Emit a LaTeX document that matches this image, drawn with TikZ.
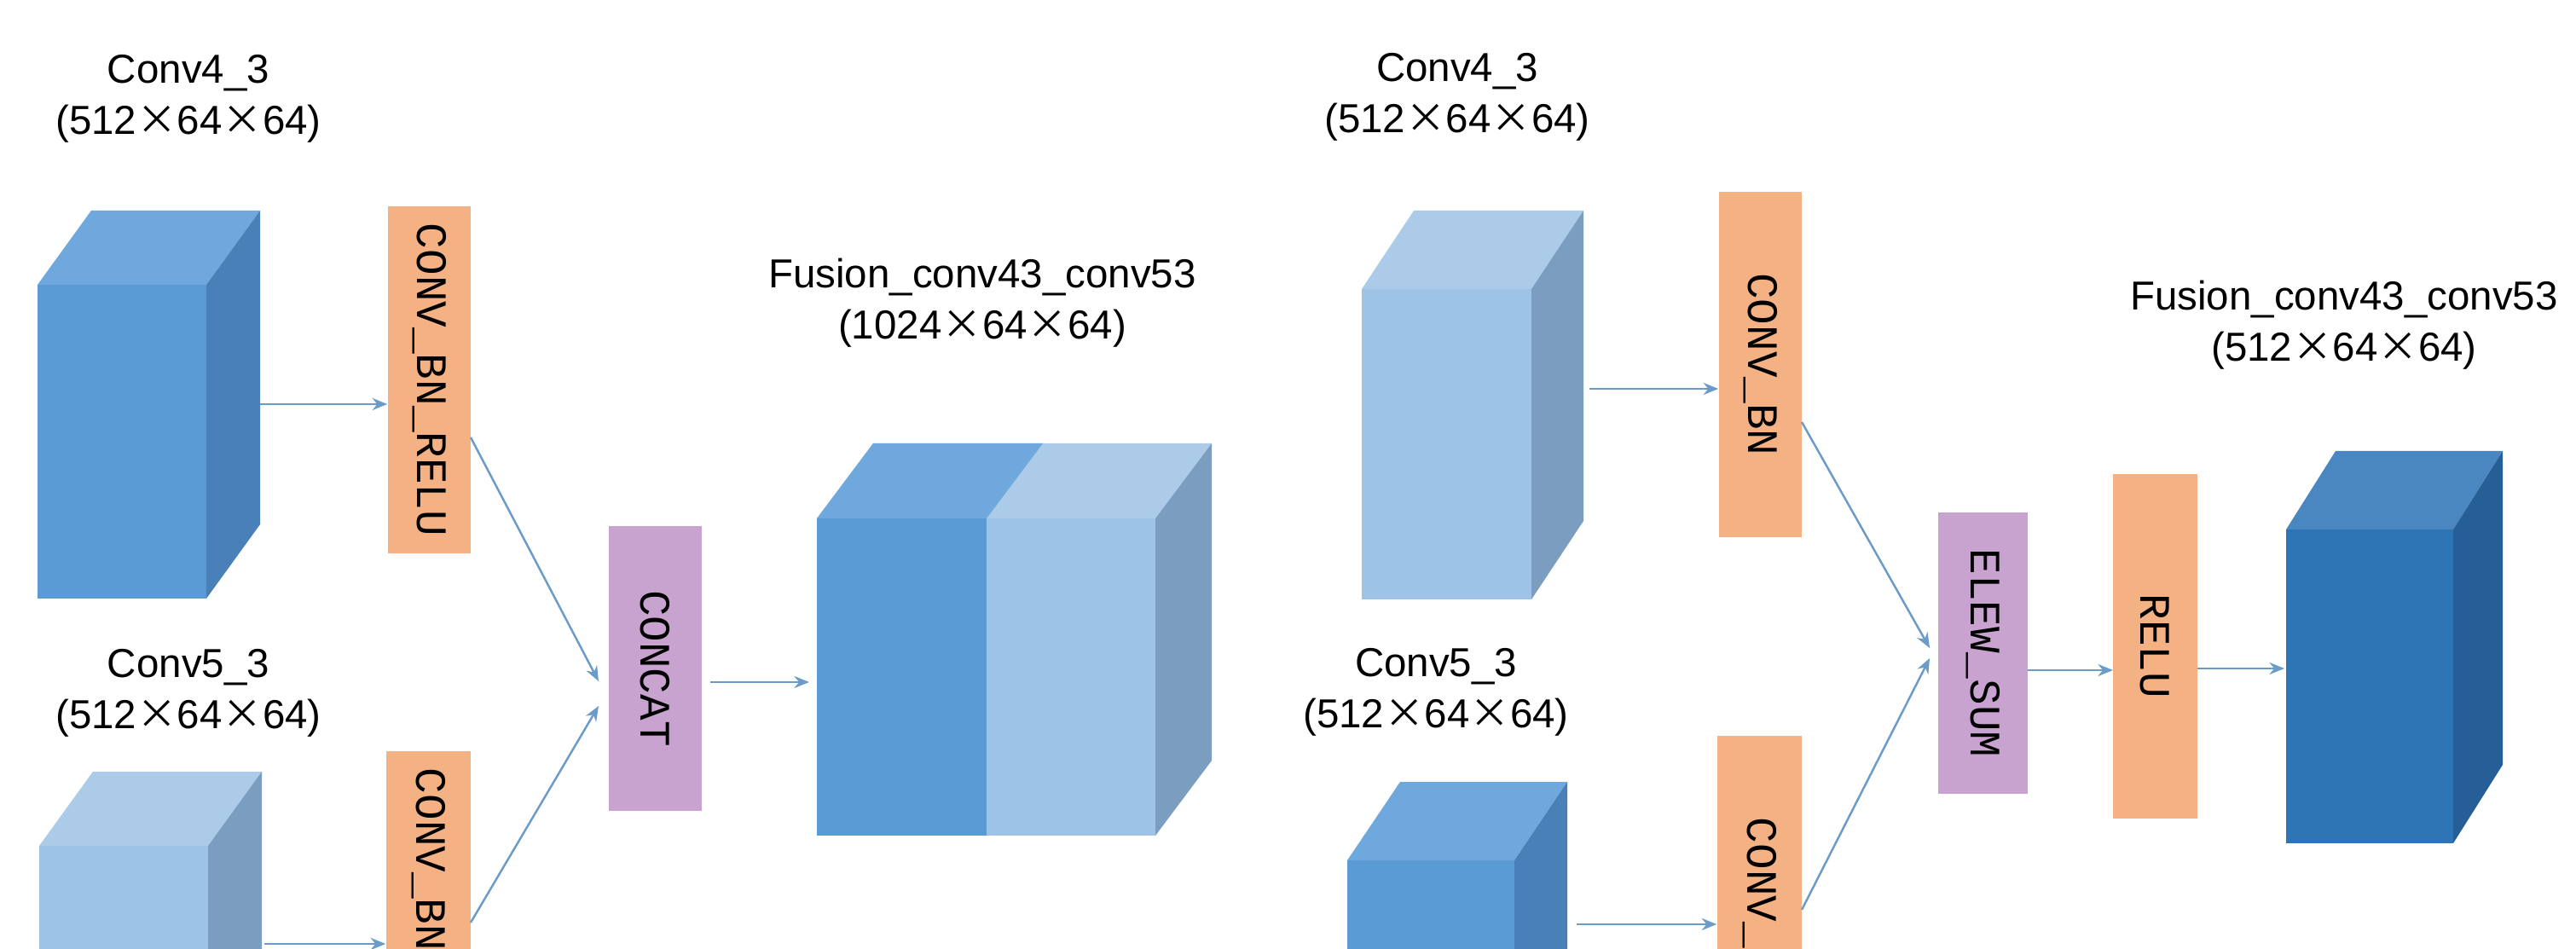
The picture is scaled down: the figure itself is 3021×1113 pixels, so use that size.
\documentclass[tikz,border=0pt]{standalone}
\usepackage{fontspec}
\setmainfont{Liberation Sans}
\newfontfamily\cjk{Noto Sans CJK SC}
\newfontfamily\mono{Liberation Mono}
\usetikzlibrary{arrows.meta}
\definecolor{bD}{HTML}{5B9BD5}\definecolor{bDt}{HTML}{6FA8DC}\definecolor{bDs}{HTML}{4A80B8}
\definecolor{bL}{HTML}{9DC3E6}\definecolor{bLt}{HTML}{ABCBE8}\definecolor{bLs}{HTML}{7B9EC0}
\definecolor{bX}{HTML}{2E75B6}\definecolor{bXt}{HTML}{4A86C0}\definecolor{bXs}{HTML}{255F96}
\definecolor{org}{HTML}{F4B183}\definecolor{pur}{HTML}{C9A3D0}\definecolor{arr}{HTML}{6A9BC9}
\newcommand\x{{\cjk ×}}
\newcommand\mycube[9]{%
 \fill[#7] (#1,#2) rectangle (#3,#4);
 \fill[#8] (#1,#2) -- ({#1+#5},{#2+#6}) -- ({#3+#5},{#2+#6}) -- (#3,#2) -- cycle;
 \fill[#9] (#3,#2) -- ({#3+#5},{#2+#6}) -- ({#3+#5},{#4+#6}) -- (#3,#4) -- cycle;}
\tikzset{
 lbl/.style={font=\fontsize{13.5}{17}\selectfont, align=center},
 box/.style={draw=none, inner sep=0pt},
 btxt/.style={font=\mono\fontsize{14.5}{15}\selectfont, rotate=-90},
 ar/.style={draw=arr, line width=0.7pt, -{Stealth[length=5pt,width=4pt]}},
 captxt/.style={font=\bfseries\fontsize{12}{14}\selectfont}
}
\begin{document}
\begin{tikzpicture}[x=0.01cm,y=-0.01cm]
\useasboundingbox[fill=white] (0,0) rectangle (3021,1113);
% ---------- (a)
\mycube{44}{334}{242}{702}{63}{-87}{bD}{bDt}{bDs}
\mycube{46}{992}{244}{1363}{63}{-87}{bL}{bLt}{bLs}
\fill[bL] (958,608) rectangle (1355,980);
\fill[bD] (958,608) rectangle (1157,980);
\fill[bLt] (958,608) -- (1024,520) -- (1421,520) -- (1355,608) -- cycle;
\fill[bDt] (958,608) -- (1024,520) -- (1223,520) -- (1157,608) -- cycle;
\fill[bLs] (1355,608) -- (1421,520) -- (1421,892) -- (1355,980) -- cycle;
\node[lbl] (l1) at (221,116) {Conv4\_3\\(512\x64\x64)};
\node[lbl] (l2) at (221,813) {Conv5\_3\\(512\x64\x64)};
\node[lbl] (l3) at (1152,355) {Fusion\_conv43\_conv53\\(1024\x64\x64)};
\node[box,fill=org,minimum width=0.97cm,minimum height=4.07cm] (b1) at (503.5,445.5) {};
\node[btxt] at (b1) {CONV\_BN\_RELU};
\node[box,fill=org,minimum width=0.99cm,minimum height=4.07cm] (b2) at (502.5,1084.5) {};
\node[btxt] at (b2) {CONV\_BN\_RELU};
\node[box,fill=pur,minimum width=1.09cm,minimum height=3.34cm] (cc) at (768.5,784) {};
\node[btxt] at (cc) {CONCAT};
\coordinate (a1s) at (305,474); \coordinate (a1e) at (b1.west|-a1s);
\coordinate (a2s) at (310,1107); \coordinate (a2e) at (b2.west|-a2s);
\coordinate (a3s) at (552,513); \coordinate (a3e) at (702,799);
\coordinate (a4s) at (552,1082); \coordinate (a4e) at (702,828);
\coordinate (a5s) at (833,800); \coordinate (a5e) at (949,800);
\draw[ar] (a1s) -- (a1e); \draw[ar] (a2s) -- (a2e);
\draw[ar] (a3s) -- (a3e); \draw[ar] (a4s) -- (a4e); \draw[ar] (a5s) -- (a5e);
\node[captxt] (ca) at (765,1452) {{\cjk （}a{\cjk ）}};
% ---------- (b)
\mycube{1597}{339}{1796}{703}{61}{-92}{bL}{bLt}{bLs}
\mycube{1580}{1009}{1776}{1375}{62}{-92}{bD}{bDt}{bDs}
\mycube{2681}{621}{2877}{989}{58}{-92}{bX}{bXt}{bXs}
\node[lbl] (l4) at (1709,114) {Conv4\_3\\(512\x64\x64)};
\node[lbl] (l5) at (1684,812) {Conv5\_3\\(512\x64\x64)};
\node[lbl] (l6) at (2749,381) {Fusion\_conv43\_conv53\\(512\x64\x64)};
\node[box,fill=org,minimum width=0.97cm,minimum height=4.05cm] (c1) at (2064.5,427.5) {};
\node[btxt] at (c1) {CONV\_BN};
\node[box,fill=org,minimum width=0.99cm,minimum height=4.06cm] (c2) at (2063.5,1066) {};
\node[btxt] at (c2) {CONV\_BN};
\node[box,fill=pur,minimum width=1.05cm,minimum height=3.30cm] (es) at (2325.5,766) {};
\node[btxt] at (es) {ELEW\_SUM};
\node[box,fill=org,minimum width=0.99cm,minimum height=4.04cm] (re) at (2527.5,758) {};
\node[btxt] at (re) {RELU};
\coordinate (b1s) at (1864,456); \coordinate (b1e) at (c1.west|-b1s);
\coordinate (b2s) at (1849,1084); \coordinate (b2e) at (c2.west|-b2s);
\coordinate (b3s) at (2113,495); \coordinate (b3e) at (2263,760);
\coordinate (b4s) at (2113,1067); \coordinate (b4e) at (2263,772);
\coordinate (b5s) at (2378,786); \coordinate (b5e) at (2478,786);
\coordinate (b6s) at (2577,784); \coordinate (b6e) at (2679,784);
\draw[ar] (b1s) -- (b1e); \draw[ar] (b2s) -- (b2e);
\draw[ar] (b3s) -- (b3e); \draw[ar] (b4s) -- (b4e);
\draw[ar] (b5s) -- (b5e); \draw[ar] (b6s) -- (b6e);
\node[captxt] (cb) at (2339,1460) {{\cjk （}b{\cjk ）}};
\end{tikzpicture}
\end{document}
